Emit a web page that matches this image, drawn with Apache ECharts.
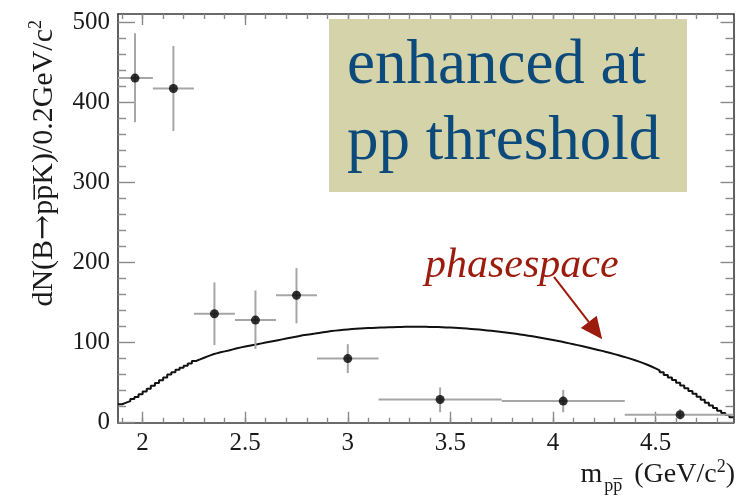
<!DOCTYPE html>
<html>
<head>
<meta charset="utf-8">
<script src="https://cdn.jsdelivr.net/npm/echarts@6/dist/echarts.min.js"></script>
<style>
  html, body { margin: 0; padding: 0; background: #ffffff; }
  #chart { width: 744px; height: 503px; }
</style>
</head>
<body>
<div id="chart"></div>
<script>
// Measured B -> p pbar K yield per mass bin (GeV/c^2)
const binLow     = [1.88, 2.05, 2.25, 2.45, 2.65, 2.85, 3.15, 3.75, 4.35];
const binHigh    = [2.05, 2.25, 2.45, 2.65, 2.85, 3.15, 3.75, 4.35, 4.88];
const pointMass  = [1.963, 2.15, 2.35, 2.55, 2.75, 3.0, 3.45, 4.05, 4.62];
const pointYield = [430, 417, 136, 128, 159, 80, 29, 27, 10];
const yieldLow   = [375, 364, 97, 92, 124, 62, 13, 13, 4];
const yieldHigh  = [486, 470, 175, 165, 193, 98, 44, 41, 17];

// Phase-space expectation, histogrammed in 0.02 GeV/c^2 bins from 1.88
const phaseStart = 1.88;
const phaseWidth = 0.02;
const phaseSpace = [
  23, 25, 27, 29.5, 32, 35.5, 39, 42.5, 46, 49.5,
  53, 56.5, 60, 63, 66, 68.5, 71, 74, 77, 79,
  81, 83, 85, 86.5, 88, 89, 90, 91.5, 93, 94,
  95, 96, 97, 98, 99, 100, 101, 102, 103, 104,
  105, 106, 107, 108, 109, 109.8, 110.5, 111.2, 112, 112.8,
  113.6, 114.3, 114.9, 115.4, 115.9, 116.4, 116.8, 117.2, 117.5, 117.8,
  118.1, 118.3, 118.5, 118.7, 118.9, 119.1, 119.2, 119.4, 119.5, 119.6,
  119.7, 119.7, 119.7, 119.7, 119.6, 119.5, 119.4, 119.3, 119.1, 118.9,
  118.7, 118.4, 118.1, 117.8, 117.4, 117, 116.6, 116.2, 115.7, 115.2,
  114.7, 114.1, 113.5, 112.9, 112.3, 111.6, 110.9, 110.2, 109.4, 108.6,
  107.8, 107, 106.1, 105.2, 104.2, 103.2, 102.2, 101.2, 100.1, 99,
  97.9, 96.8, 95.6, 94.4, 93.2, 92, 90.8, 89.6, 88.3, 87,
  85.6, 84.2, 82.7, 81.2, 79.6, 78, 76.2, 74.3, 72.3, 70.1,
  67.8, 65.4, 62.8, 59.5, 56.5, 53.3, 50, 46.5, 43, 39.5,
  36, 32.3, 28.5, 25, 21.5, 18.2, 15, 12.2, 9.6, 6.7
];

// Axis ranges and tick positions
const xMin = 1.88, xMax = 4.88;
const yMin = 0, yMax = 510;
const xMajorTicks = [2, 2.5, 3, 3.5, 4, 4.5];
const xMinorTicks = [1.9, 2.0, 2.1, 2.2, 2.3, 2.4, 2.5, 2.6, 2.7, 2.8, 2.9, 3.0,
                     3.1, 3.2, 3.3, 3.4, 3.5, 3.6, 3.7, 3.8, 3.9, 4.0, 4.1, 4.2,
                     4.3, 4.4, 4.5, 4.6, 4.7, 4.8];
const yMajorTicks = [0, 100, 200, 300, 400, 500];
const yMinorTicks = [20, 40, 60, 80, 120, 140, 160, 180, 220, 240, 260, 280,
                     320, 340, 360, 380, 420, 440, 460, 480];

const SERIF = '"Liberation Serif", "Times New Roman", "DejaVu Serif", serif';
const FRAME = '#3a3a3a';
const TICK = '#8a8a8a';

// Step-histogram vertices: left edge of each bin, plus closing right edge
const phaseData = phaseSpace.map((v, i) => [phaseStart + i * phaseWidth, v]);
phaseData.push([phaseStart + phaseSpace.length * phaseWidth, phaseSpace[phaseSpace.length - 1]]);

const errData = pointMass.map((m, i) =>
  [m, pointYield[i], binLow[i], binHigh[i], yieldLow[i], yieldHigh[i]]);

function xAxisDef(position, ticks, len, withLine, withLabels) {
  return {
    type: 'value', min: xMin, max: xMax, position: position,
    splitLine: { show: false },
    axisLine: { show: withLine, onZero: false, lineStyle: { color: FRAME, width: 1.6 } },
    axisTick: { show: true, inside: true, length: len, customValues: ticks,
                lineStyle: { color: TICK, width: 1.4 } },
    axisLabel: withLabels ? {
      show: true, customValues: xMajorTicks, margin: 8,
      fontFamily: SERIF, fontSize: 25, color: '#1a1a1a',
      formatter: v => String(v)
    } : { show: false }
  };
}
function yAxisDef(position, ticks, len, withLine, withLabels) {
  return {
    type: 'value', min: yMin, max: yMax, position: position,
    splitLine: { show: false },
    axisLine: { show: withLine, onZero: false, lineStyle: { color: FRAME, width: 1.6 } },
    axisTick: { show: true, inside: true, length: len, customValues: ticks,
                lineStyle: { color: TICK, width: 1.4 } },
    axisLabel: withLabels ? {
      show: true, customValues: yMajorTicks, margin: 8,
      fontFamily: SERIF, fontSize: 25, color: '#1a1a1a',
      formatter: v => String(v)
    } : { show: false }
  };
}

const chart = echarts.init(document.getElementById('chart'), null, { renderer: 'canvas' });

chart.setOption({
  animation: false,
  backgroundColor: '#ffffff',
  grid: { left: 118, right: 10.5, top: 14, bottom: 80.3, containLabel: false },
  xAxis: [
    xAxisDef('bottom', xMajorTicks, 11, true, true),
    xAxisDef('bottom', xMinorTicks, 5, false, false),
    xAxisDef('top', xMajorTicks, 11, true, false),
    xAxisDef('top', xMinorTicks, 5, false, false)
  ],
  yAxis: [
    yAxisDef('left', yMajorTicks, 17, true, true),
    yAxisDef('left', yMinorTicks, 8, false, false),
    yAxisDef('right', yMajorTicks, 13, true, false),
    yAxisDef('right', yMinorTicks, 8, false, false)
  ],
  series: [
    {
      name: 'phasespace',
      type: 'line',
      step: 'end',
      data: phaseData,
      showSymbol: false,
      lineStyle: { color: '#111111', width: 2 },
      z: 2
    },
    {
      name: 'errors',
      type: 'custom',
      data: errData,
      encode: { x: [0, 2, 3], y: [1, 4, 5] },
      renderItem: function (params, api) {
        const x = api.value(0), y = api.value(1);
        const l = api.coord([api.value(2), y]);
        const r = api.coord([api.value(3), y]);
        const b = api.coord([x, api.value(4)]);
        const t = api.coord([x, api.value(5)]);
        const style = { stroke: '#a6a6a6', lineWidth: 2 };
        return {
          type: 'group',
          children: [
            { type: 'line', shape: { x1: l[0], y1: l[1], x2: r[0], y2: r[1] }, style: style },
            { type: 'line', shape: { x1: b[0], y1: b[1], x2: t[0], y2: t[1] }, style: style }
          ]
        };
      },
      z: 3
    },
    {
      name: 'data',
      type: 'scatter',
      data: pointMass.map((m, i) => [m, pointYield[i]]),
      symbol: 'circle',
      symbolSize: 9,
      itemStyle: { color: '#000000' },
      z: 4
    }
  ]
});

// Annotations: axis titles, text box, and the phase-space pointer
const tail = chart.convertToPixel({ xAxisIndex: 0, yAxisIndex: 0 }, [4.005, 182]);
const tip  = chart.convertToPixel({ xAxisIndex: 0, yAxisIndex: 0 }, [4.24, 104]);
const ang = Math.atan2(tip[1] - tail[1], tip[0] - tail[0]);
const headLen = 22, headHalf = 10;
const baseX = tip[0] - headLen * Math.cos(ang), baseY = tip[1] - headLen * Math.sin(ang);
const nx = -Math.sin(ang), ny = Math.cos(ang);

chart.setOption({
  graphic: [
    {
      type: 'text', x: 44, y: 20, rotation: Math.PI / 2,
      style: {
        text: 'dN(B{arr|\u2192}pp\u0305K)/0.2GeV/c{sup|2}',
        font: '30px ' + SERIF, fill: '#1a1a1a',
        align: 'right', verticalAlign: 'middle',
        rich: {
          arr: { fontSize: 30, fontFamily: '"DejaVu Serif", serif', fill: '#1a1a1a' },
          sup: { fontSize: 18, fontFamily: SERIF, fill: '#1a1a1a', padding: [0, 0, 15, 0] }
        }
      }
    },
    {
      type: 'text', x: 735, y: 475,
      style: {
        text: 'm{sub|pp\u0305} (GeV/c{sup|2})',
        font: '28px ' + SERIF, fill: '#1a1a1a',
        align: 'right', verticalAlign: 'middle',
        rich: {
          sub: { fontSize: 18, fontFamily: SERIF, fill: '#1a1a1a', padding: [22, 5, 0, 2] },
          sup: { fontSize: 18, fontFamily: SERIF, fill: '#1a1a1a', padding: [0, 0, 15, 0] }
        }
      }
    },
    {
      type: 'rect', shape: { x: 329, y: 19, width: 358, height: 173 },
      style: { fill: '#d4d3aa' }, z: 10
    },
    {
      type: 'text', x: 347, y: 28, z: 11,
      style: {
        text: 'enhanced at\npp threshold',
        font: '63px ' + SERIF, fill: '#0d4a7c',
        lineHeight: 76, align: 'left', verticalAlign: 'top'
      }
    },
    {
      type: 'text', x: 425, y: 266, z: 11,
      style: {
        text: 'phasespace',
        font: 'italic 42px ' + SERIF, fill: '#9b1b0c',
        align: 'left', verticalAlign: 'middle'
      }
    },
    {
      type: 'line', z: 11,
      shape: { x1: tail[0], y1: tail[1], x2: baseX, y2: baseY },
      style: { stroke: '#9b1b0c', lineWidth: 2 }
    },
    {
      type: 'polygon', z: 11,
      shape: { points: [
        [tip[0], tip[1]],
        [baseX + nx * headHalf, baseY + ny * headHalf],
        [baseX - nx * headHalf, baseY - ny * headHalf]
      ] },
      style: { fill: '#9b1b0c' }
    }
  ]
});
</script>
</body>
</html>
